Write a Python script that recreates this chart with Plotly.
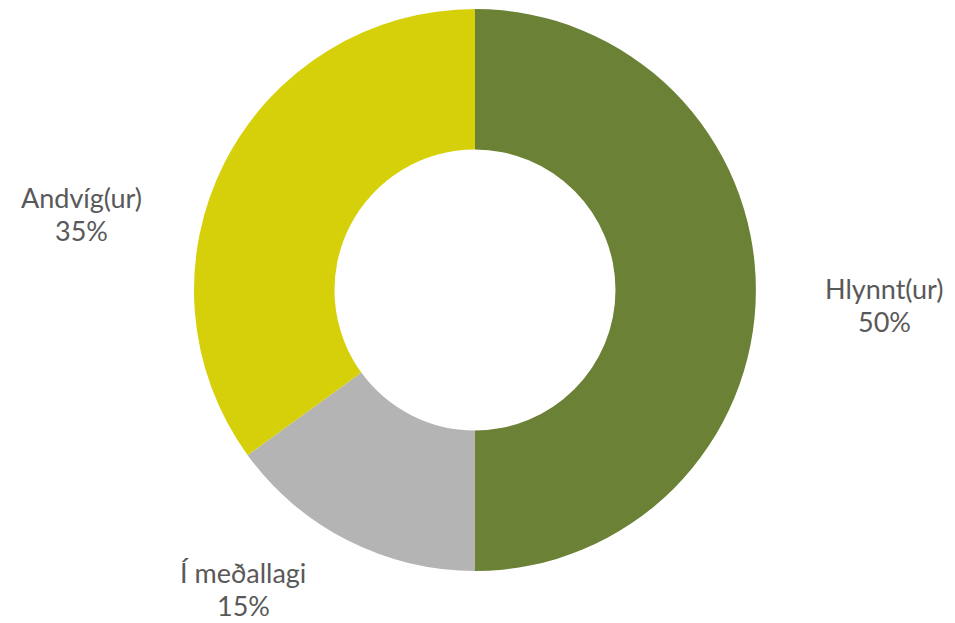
import plotly.graph_objects as go

labels = ["Hlynnt(ur)", "Í meðallagi", "Andvíg(ur)"]
values = [50, 15, 35]
colors = ["#6A8136", "#B4B4B4", "#D6D00A"]

OFF = 8  # browser default body margin shifts the figure by 8px
W, H = 955 - OFF, 623 - OFF  # keep the whole figure inside the visible window
cx, cy, R = 475 - OFF, 290 - OFF, 281

fig = go.Figure(go.Pie(
    labels=labels, values=values, hole=0.5, sort=False, direction="clockwise",
    rotation=0, marker=dict(colors=colors, line=dict(width=0)),
    textinfo="none", hoverinfo="label+percent", showlegend=False,
    domain=dict(x=[(cx - R) / W, (cx + R) / W], y=[1 - (cy + R) / H, 1 - (cy - R) / H]),
))

# label anchor positions (pixels, as seen on the page) for each slice
label_pos = {"Hlynnt(ur)": (884, 305), "Í meðallagi": (243, 589), "Andvíg(ur)": (81, 214)}
total = sum(values)
font = dict(family="Lato, Open Sans, sans-serif", size=27, color="#595959")
for lab, val in zip(labels, values):
    px, py = label_pos[lab]
    px -= OFF
    py -= OFF
    pct = f"{round(100 * val / total)}%"
    fig.add_annotation(x=px / W, y=1 - (py - 17) / H, xref="paper", yref="paper",
                       text=lab, showarrow=False, font=font, xanchor="center", yanchor="middle",
                       borderpad=0)
    fig.add_annotation(x=px / W, y=1 - (py + 16) / H, xref="paper", yref="paper",
                       text=pct, showarrow=False, font=font, xanchor="center", yanchor="middle",
                       borderpad=0)

fig.update_layout(width=W, height=H, margin=dict(l=0, r=0, t=0, b=0),
                  paper_bgcolor="white", plot_bgcolor="white")
fig.write_html("out.html")
